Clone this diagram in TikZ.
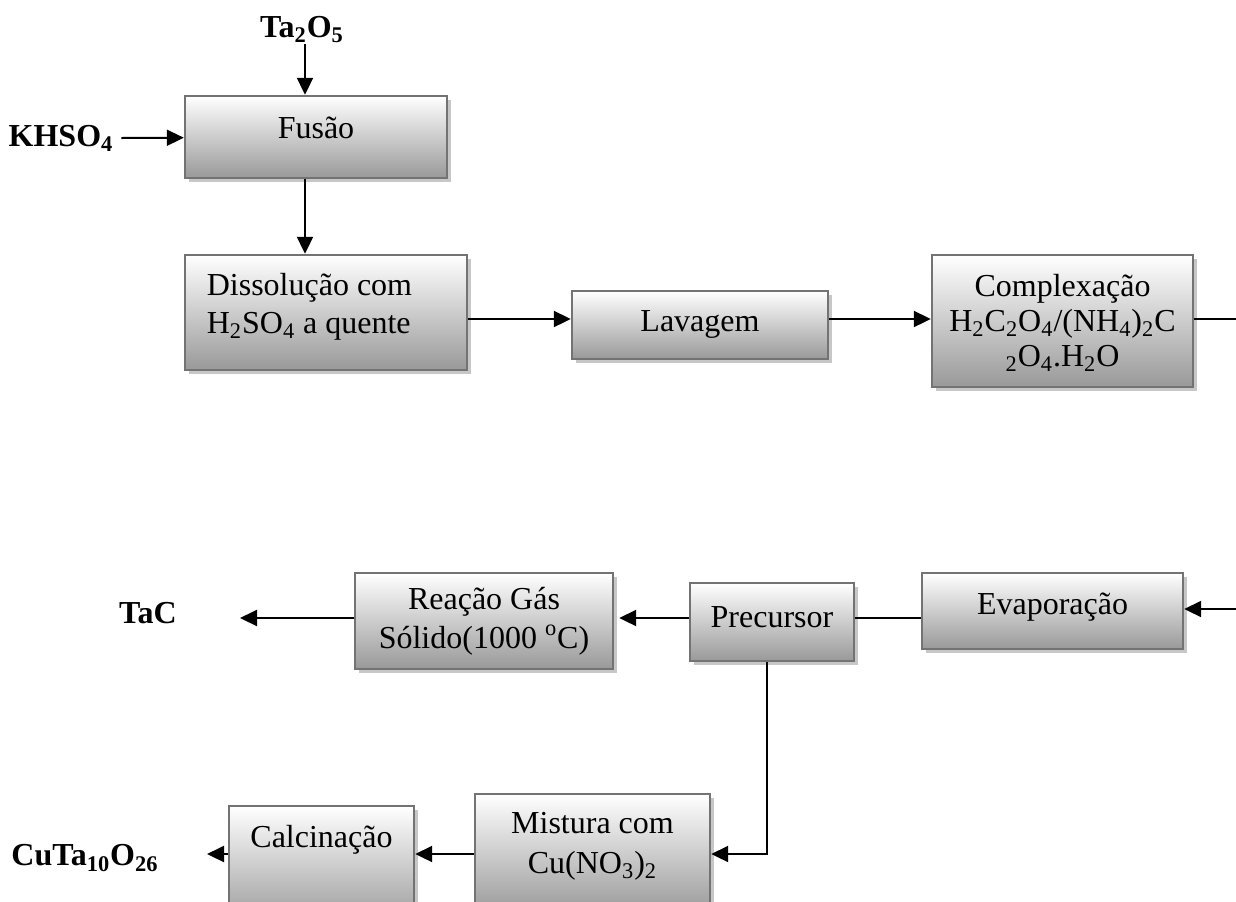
\documentclass[tikz,border=0pt]{standalone}
\usepackage{fontspec}
\setmainfont{Liberation Serif}
\usetikzlibrary{arrows.meta,shadows}

\begin{document}
\begin{tikzpicture}[x=0.5pt,y=-0.5pt,line width=1pt,>={Triangle[length=8.5pt,width=8pt]},
  font=\fontsize{16}{19}\selectfont,
  stagebox/.style={draw=black!55,line width=1.2pt,top color=white,bottom color=black!40,
    drop shadow={shadow xshift=1.8pt,shadow yshift=-1.8pt,fill=black!22,opacity=1}},
  stagetext/.style={align=center,inner sep=0pt},
  chem/.style={font=\fontsize{16}{19}\selectfont\bfseries,inner sep=0.5pt}]

\useasboundingbox (0,0) rectangle (1236,901);

% rows of the flow
\coordinate (row1) at (0,319);
\coordinate (row2) at (0,618);
\coordinate (row3) at (0,854);
\coordinate (outA) at (1236,319);
\coordinate (inB) at (1236,609);
\coordinate (tacend) at (240,618);
\coordinate (cuend) at (207,854);

% upper part
\node[chem,anchor=south,inner sep=0pt] (ta2o5) at (302,44) {Ta\textsubscript{2}O\textsubscript{5}};
\node[chem] (khso4) at (61,138) {KHSO\textsubscript{4}};
\node[stagebox,minimum width=131pt,minimum height=41pt,
  label={[stagetext,yshift=4.5pt]center:Fusão}] (fusao) at (316,137) {};
\node[stagebox,minimum width=141pt,minimum height=57.5pt,
  label={[stagetext,align=left,anchor=west,xshift=11pt,yshift=3pt]west:Dissolução com\\H\textsubscript{2}SO\textsubscript{4} a quente}] (dissol) at (326,312.5) {};
\node[stagebox,minimum width=128pt,minimum height=34pt,
  label={[stagetext,yshift=0.5pt]center:Lavagem}] (lavagem) at (700,325) {};
\node[stagebox,minimum width=130.5pt,minimum height=66pt,
  label={[stagetext,font=\fontsize{16}{17.5}\selectfont,yshift=-1pt]center:Complexação\\H\textsubscript{2}C\textsubscript{2}O\textsubscript{4}/(NH\textsubscript{4})\textsubscript{2}C\\\textsubscript{2}O\textsubscript{4}.H\textsubscript{2}O}] (complex) at (1062.5,321) {};

% lower part
\node[stagebox,minimum width=130.5pt,minimum height=38pt,
  label={[stagetext,yshift=2pt]center:Evaporação}] (evap) at (1052.5,611) {};
\node[stagebox,minimum width=82pt,minimum height=39pt,
  label={[stagetext,yshift=2.5pt]center:Precursor}] (precursor) at (772,622) {};
\node[stagebox,minimum width=129pt,minimum height=48pt,
  label={[stagetext,font=\fontsize{16}{19.5}\selectfont]center:Reação Gás\\Sólido(1000 \textsuperscript{o}C)}] (reacao) at (484,621) {};
\node[chem] (tac) at (148,613) {TaC};
\node[stagebox,minimum width=117.5pt,minimum height=60pt,
  label={[stagetext,font=\fontsize{16}{20}\selectfont,yshift=4pt]center:Mistura com\\Cu(NO\textsubscript{3})\textsubscript{2}}] (mistura) at (592.5,854) {};
\node[stagebox,minimum width=92.5pt,minimum height=60pt,
  label={[stagetext,yshift=13pt]center:Calcinação}] (calcin) at (321.5,866) {};
\node[chem] (cuta) at (85,858) {CuTa\textsubscript{10}O\textsubscript{26}};

% connectors
\draw[->] (ta2o5.south -| 305,0) -- (305,0 |- fusao.north);
\draw[->] ([xshift=3pt]khso4.east) -- (fusao);
\draw[->] (305,0 |- fusao.south) -- (305,0 |- dissol.north);
\draw[->] (dissol.east |- row1) -- (lavagem.west |- row1);
\draw[->] (lavagem.east |- row1) -- (complex.west |- row1);
\draw (complex.east |- row1) -- (outA);
\draw[->] (inB) -- (inB -| evap.east);
\draw (evap.west |- row2) -- (precursor.east |- row2);
\draw[->] (precursor.west |- row2) -- ([xshift=2.5pt]reacao.east |- row2);
\draw[->] (reacao.west |- row2) -- (tacend);
\draw[->] ([xshift=-2.5pt]precursor.south) |- (mistura.east |- row3);
\draw[->] (mistura.west |- row3) -- (calcin.east |- row3);
\draw[->] (calcin.west |- row3) -- (cuend);
\end{tikzpicture}
\end{document}
